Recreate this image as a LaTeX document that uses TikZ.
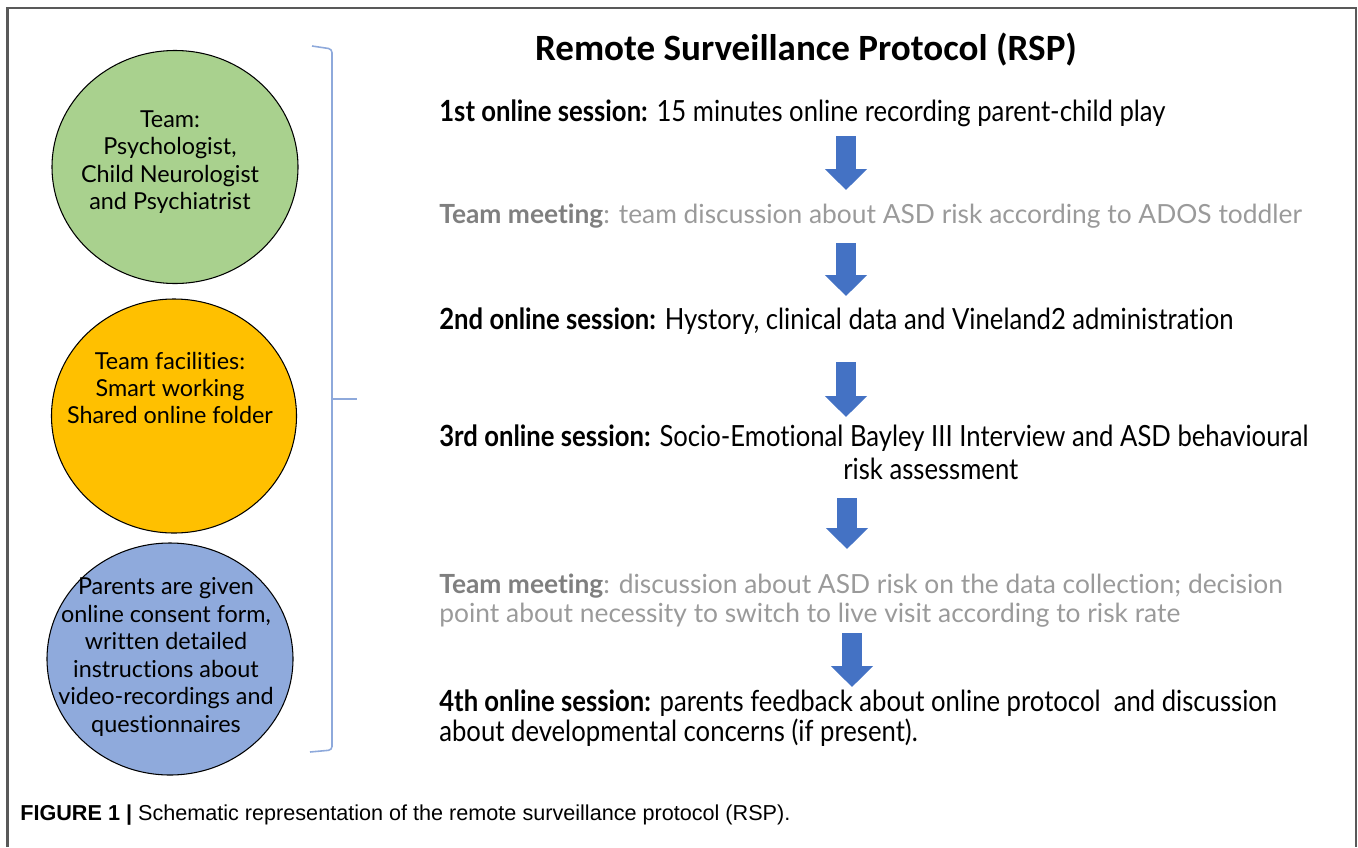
\documentclass[tikz,border=0pt]{standalone}
\usepackage{fontspec}
\setmainfont{Lato}[Ligatures=NoCommon]
\newfontfamily\titlefont{Carlito}
\newfontfamily\condfont[FakeStretch=0.88,Ligatures=NoCommon]{Lato}
\newfontfamily\capfont{Liberation Sans}
\usepackage{xcolor}
\usetikzlibrary{arrows.meta,shapes.geometric}
\definecolor{teamgreen}{HTML}{A9D18E}
\definecolor{facilorange}{HTML}{FFC000}
\definecolor{parentblue}{HTML}{8FAADC}
\definecolor{flowblue}{HTML}{4472C4}
\definecolor{bracketblue}{HTML}{8EA9DB}
\definecolor{meetdark}{HTML}{7F7F7F}
\definecolor{meetgray}{HTML}{9A9A9A}
\tikzstyle{bubble} = [draw=black,line width=0.6pt,ellipse,inner sep=0pt]
\tikzstyle{bubbletext} = [align=center,inner sep=0pt,font=\fontsize{13.3}{15.6}\selectfont]
\tikzstyle{session} = [anchor=west,align=left,inner sep=0pt,font=\condfont\fontsize{16.6}{17}\selectfont]
\tikzstyle{meeting} = [anchor=west,align=left,inner sep=0pt,text=meetgray,font=\fontsize{15}{16.5}\selectfont]
\tikzstyle{flow} = [line width=0.4cm,draw=flowblue,-{Triangle[width=0.82cm,length=0.42cm]}]

\begin{document}
\begin{tikzpicture}
            \useasboundingbox (0,0) rectangle (27.16,-16.94);
            % frame
            \draw[color=black!65,line width=1.2pt] (0.15,-16.94) -- (0.15,-0.16) -- (27.12,-0.16) -- (27.12,-16.94);
            % circles
            \node[bubble,fill=teamgreen,minimum width=4.92cm,minimum height=4.66cm] (team) at (3.5,-3.34) {};
            \node[bubble,fill=facilorange,minimum width=4.90cm,minimum height=4.68cm] (facil) at (3.48,-8.32) {};
            \node[bubble,fill=parentblue,minimum width=4.92cm,minimum height=4.64cm] (parents) at (3.40,-13.18) {};
            \node[bubbletext] (teamtxt) at (3.40,-3.24) {Team:\\Psychologist,\\Child Neurologist\\and Psychiatrist};
            \node[bubbletext] (faciltxt) at (3.40,-7.76) {Team facilities:\\Smart working\\Shared online folder};
            \node[bubbletext] (parentstxt) at (3.32,-13.14) {Parents are given\\online consent form,\\written detailed\\instructions about\\video-recordings and\\questionnaires};
            % bracket
            \coordinate (brtop) at (6.24,-0.92);
            \coordinate (brtopc) at (6.64,-0.98);
            \coordinate (brbotc) at (6.64,-15.00);
            \coordinate (brbot) at (6.20,-15.04);
            \coordinate (brmid) at (6.64,-7.98);
            \coordinate (brtip) at (7.14,-7.98);
            \draw[bracketblue,line width=0.9pt,rounded corners=2pt] (brtop) -- (brtopc) -- (brbotc) -- (brbot);
            \draw[bracketblue,line width=0.9pt] (brmid) -- (brtip);
            % protocol
            \node[inner sep=0pt,font=\titlefont\bfseries\fontsize{21.1}{25}\selectfont] (title) at (16.12,-1.0) {Remote Surveillance Protocol (RSP)};
            \node[session] (s1) at (8.78,-2.26) {\textbf{1st online session:} 15 minutes online recording parent-child play};
            \node[meeting] (m1) at (8.78,-4.32) {{\color{meetdark}\bfseries Team meeting}: team discussion about ASD risk according to ADOS toddler};
            \node[session] (s2) at (8.78,-6.42) {\textbf{2nd online session:} Hystory, clinical data and Vineland2 administration};
            \node[session] (s3) at (8.78,-8.76) {\textbf{3rd online session:} Socio-Emotional Bayley III Interview and ASD behavioural};
            \node[session] (s3b) at (16.86,-9.38) {risk assessment};
            \node[meeting] (m2) at (8.78,-12.01) {{\color{meetdark}\bfseries Team meeting}: discussion about ASD risk on the data collection; decision\\point about necessity to switch to live visit according to risk rate};
            \node[session] (s4) at (8.78,-14.36) {\textbf{4th online session:} parents feedback about online protocol\ \ and discussion\\about developmental concerns (if present).};
            % arrows
            \coordinate (a1s) at (16.92,-2.72);  \coordinate (a1e) at (16.92,-3.80);
            \coordinate (a2s) at (16.92,-4.86);  \coordinate (a2e) at (16.92,-5.92);
            \coordinate (a3s) at (16.92,-7.24);  \coordinate (a3e) at (16.92,-8.34);
            \coordinate (a4s) at (16.94,-9.96);  \coordinate (a4e) at (16.94,-10.98);
            \coordinate (a5s) at (17.04,-12.66); \coordinate (a5e) at (17.04,-13.74);
            \draw[flow] (a1s) -- (a1e);
            \draw[flow] (a2s) -- (a2e);
            \draw[flow] (a3s) -- (a3e);
            \draw[flow] (a4s) -- (a4e);
            \draw[flow] (a5s) -- (a5e);
            % caption
            \node[anchor=west,inner sep=0pt,font=\capfont\fontsize{12.3}{14}\selectfont] (caption) at (0.40,-16.30) {\textbf{FIGURE 1 |} Schematic representation of the remote surveillance protocol (RSP).};
        \end{tikzpicture}
\end{document}
